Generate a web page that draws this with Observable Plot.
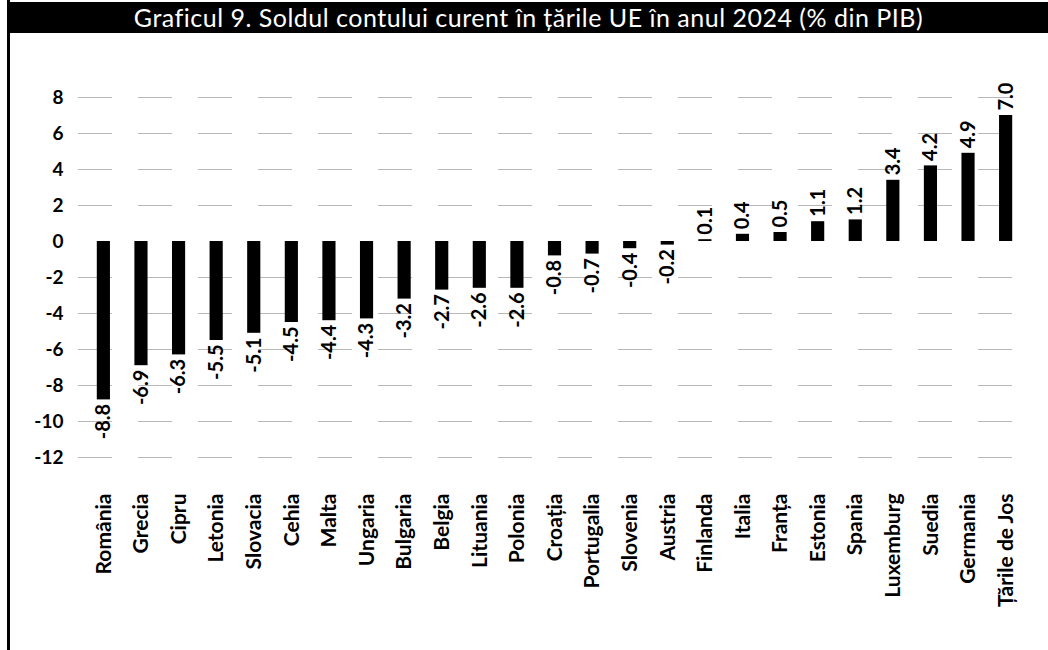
<!DOCTYPE html>
<html>
<head>
<meta charset="utf-8">
<script src="https://cdn.jsdelivr.net/npm/d3@7"></script>
<script src="https://cdn.jsdelivr.net/npm/@observablehq/plot@0.6"></script>
<style>
  html, body { margin: 0; padding: 0; background: #fff; }
  #wrap { position: relative; width: 1048px; height: 650px; overflow: hidden; font-family: Lato, "Open Sans", sans-serif; }
  #title { position: absolute; left: 9px; top: 2px; width: 1039px; height: 31px; background: #000; color: #fff;
           font-size: 25px; line-height: 31px; text-align: center; letter-spacing: 0.5px; }
  #border { position: absolute; left: 7px; top: 0; width: 3px; height: 650px; background: #000; }
  #chart { position: absolute; left: 0; top: 34px; }
</style>
</head>
<body>
<div id="wrap">
  <div id="title">Graficul 9. Soldul contului curent în țările UE în anul 2024 (% din PIB)</div>
  <div id="border"></div>
  <div id="chart"></div>
</div>
<script>
const countries = ["România","Grecia","Cipru","Letonia","Slovacia","Cehia","Malta","Ungaria","Bulgaria","Belgia","Lituania","Polonia","Croația","Portugalia","Slovenia","Austria","Finlanda","Italia","Franța","Estonia","Spania","Luxemburg","Suedia","Germania","Țările de Jos"];
const values = [-8.8,-6.9,-6.3,-5.5,-5.1,-4.5,-4.4,-4.3,-3.2,-2.7,-2.6,-2.6,-0.8,-0.7,-0.4,-0.2,0.1,0.4,0.5,1.1,1.2,3.4,4.2,4.9,7.0];
const yTicks = [-12,-10,-8,-6,-4,-2,0,2,4,6,8];

const data = countries.map((c, i) => ({country: c, value: values[i]}));
const fmt = v => v.toFixed(1);

const chart = Plot.plot({
  width: 1048,
  height: 616,
  marginLeft: 78,
  marginRight: 17,
  marginTop: 63,
  marginBottom: 193,
  style: {fontFamily: "Lato, 'Open Sans', sans-serif", background: "transparent"},
  x: {domain: countries, paddingInner: 0.65, paddingOuter: 0.5, round: false, label: null},
  y: {domain: [-12, 8], label: null},
  marks: [
    Plot.ruleY(yTicks.filter(t => t !== 0), {stroke: "#888", strokeWidth: 1.2, strokeDasharray: "34,26", strokeOpacity: 0.6}),
    Plot.barY(data, {x: "country", y: "value", fill: "#000"}),
    Plot.text(data.filter(d => d.value < 0), {x: "country", y: "value", text: d => fmt(d.value), rotate: -90, textAnchor: "end", dy: 4, fontSize: 20, fontWeight: "bold", fill: "#000"}),
    Plot.text(data.filter(d => d.value >= 0), {x: "country", y: "value", text: d => fmt(d.value), rotate: -90, textAnchor: "start", dy: -5, fontSize: 20, fontWeight: "bold", fill: "#000"}),
    Plot.axisY({ticks: yTicks, tickSize: 0, tickPadding: 15, fontSize: 19, fontWeight: "bold", label: null, tickFormat: d => String(d)}),
    Plot.axisX({tickSize: 0, tickPadding: 36, tickRotate: -90, fontSize: 21, fontWeight: "bold", label: null})
  ]
});
document.getElementById("chart").appendChild(chart);
</script>
</body>
</html>
